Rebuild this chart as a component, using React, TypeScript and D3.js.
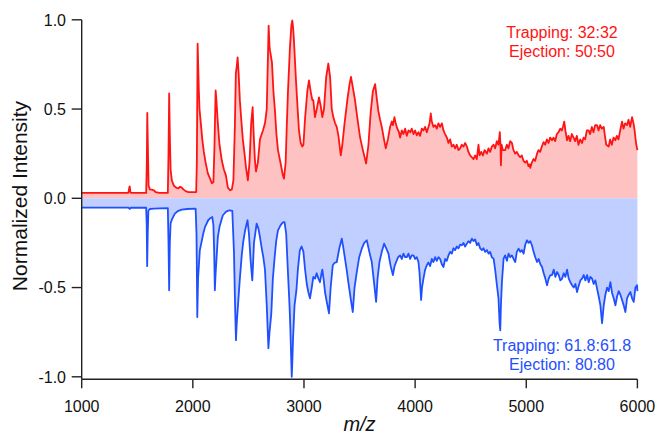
import React from "react";
import * as d3 from "d3";

// [m/z, normalized intensity]
const redSpectrum: [number, number][] = [
  [1000, 0.03], [1420, 0.03], [1428, 0.06], [1432, 0.067], [1438, 0.035], [1445, 0.03],
  [1580, 0.03], [1586, 0.2], [1590, 0.478], [1595, 0.3], [1602, 0.07], [1613, 0.05],
  [1630, 0.048], [1650, 0.045], [1665, 0.035], [1700, 0.03], [1775, 0.03], [1781, 0.25],
  [1787, 0.587], [1793, 0.35], [1800, 0.16], [1811, 0.1], [1830, 0.07], [1850, 0.06],
  [1870, 0.055], [1885, 0.065], [1900, 0.06], [1915, 0.05], [1935, 0.04], [1960, 0.035],
  [2030, 0.035], [2036, 0.2], [2043, 0.867], [2050, 0.7], [2054, 0.605], [2060, 0.5],
  [2072, 0.42], [2085, 0.33], [2099, 0.26], [2115, 0.2], [2135, 0.14], [2155, 0.11],
  [2171, 0.085], [2185, 0.09], [2195, 0.3], [2205, 0.605], [2212, 0.55], [2225, 0.42],
  [2240, 0.3], [2261, 0.21], [2280, 0.16], [2297, 0.13], [2315, 0.06], [2335, 0.045],
  [2351, 0.05], [2365, 0.1], [2378, 0.4], [2387, 0.7], [2395, 0.74], [2403, 0.79],
  [2412, 0.7], [2423, 0.55], [2437, 0.43], [2450, 0.33], [2465, 0.25], [2477, 0.18],
  [2495, 0.1], [2510, 0.2], [2525, 0.42], [2538, 0.51], [2548, 0.35], [2558, 0.22],
  [2568, 0.15], [2585, 0.2], [2604, 0.33], [2620, 0.36], [2631, 0.38], [2649, 0.42],
  [2665, 0.5], [2676, 0.8], [2682, 0.967], [2690, 0.85], [2694, 0.83], [2712, 0.76],
  [2725, 0.6], [2739, 0.49], [2752, 0.36], [2766, 0.27], [2793, 0.185], [2810, 0.13],
  [2820, 0.11], [2835, 0.2], [2845, 0.4], [2856, 0.6], [2874, 0.85], [2887, 0.97],
  [2895, 0.996], [2903, 0.95], [2910, 0.88], [2928, 0.66], [2945, 0.48], [2955, 0.38],
  [2970, 0.31], [2985, 0.29], [2995, 0.3], [3010, 0.45], [3030, 0.6], [3045, 0.66],
  [3060, 0.6], [3075, 0.55], [3084, 0.55], [3099, 0.455], [3115, 0.5], [3135, 0.565],
  [3150, 0.52], [3165, 0.455], [3180, 0.5], [3200, 0.68], [3219, 0.755], [3235, 0.68],
  [3250, 0.5], [3264, 0.455], [3280, 0.42], [3295, 0.4], [3310, 0.35], [3331, 0.24],
  [3345, 0.3], [3365, 0.42], [3390, 0.55], [3410, 0.64], [3423, 0.68], [3440, 0.62],
  [3459, 0.55], [3480, 0.45], [3505, 0.34], [3530, 0.27], [3559, 0.195], [3580, 0.3],
  [3600, 0.48], [3620, 0.6], [3640, 0.64], [3655, 0.56], [3669, 0.49], [3685, 0.44],
  [3700, 0.4], [3720, 0.33], [3736, 0.28], [3755, 0.33], [3775, 0.4], [3790, 0.43],
  [3800, 0.41], [3814, 0.455], [3825, 0.42], [3840, 0.39], [3855, 0.37], [3865, 0.34],
  [3880, 0.38], [3895, 0.36], [3910, 0.39], [3925, 0.35], [3940, 0.38], [3955, 0.37],
  [3970, 0.39], [3985, 0.36], [4000, 0.38], [4015, 0.353], [4030, 0.37], [4045, 0.35],
  [4060, 0.39], [4075, 0.38], [4090, 0.4], [4105, 0.37], [4120, 0.4], [4130, 0.42],
  [4141, 0.475], [4150, 0.43], [4165, 0.4], [4180, 0.41], [4195, 0.39], [4210, 0.42],
  [4225, 0.4], [4241, 0.42], [4255, 0.38], [4270, 0.36], [4286, 0.34], [4300, 0.31],
  [4315, 0.33], [4330, 0.29], [4345, 0.3], [4360, 0.28], [4375, 0.3], [4390, 0.27],
  [4405, 0.28], [4420, 0.3], [4435, 0.29], [4450, 0.31], [4466, 0.29], [4480, 0.26],
  [4495, 0.24], [4510, 0.23], [4525, 0.22], [4540, 0.24], [4555, 0.22], [4570, 0.3],
  [4580, 0.24], [4595, 0.26], [4610, 0.24], [4625, 0.27], [4646, 0.25], [4660, 0.28],
  [4675, 0.26], [4690, 0.29], [4706, 0.3], [4720, 0.28], [4735, 0.32], [4750, 0.3],
  [4762, 0.37], [4768, 0.3], [4772, 0.185], [4778, 0.3], [4790, 0.27], [4811, 0.27],
  [4825, 0.3], [4840, 0.28], [4855, 0.32], [4871, 0.31], [4885, 0.27], [4900, 0.25],
  [4915, 0.26], [4931, 0.24], [4945, 0.23], [4960, 0.24], [4975, 0.21], [4991, 0.2],
  [5005, 0.21], [5020, 0.18], [5030, 0.19], [5036, 0.17], [5050, 0.2], [5065, 0.22],
  [5080, 0.21], [5097, 0.25], [5110, 0.27], [5125, 0.26], [5140, 0.29], [5156, 0.315],
  [5170, 0.3], [5185, 0.33], [5200, 0.31], [5215, 0.34], [5232, 0.325], [5245, 0.34],
  [5260, 0.32], [5275, 0.36], [5290, 0.37], [5306, 0.39], [5320, 0.38], [5330, 0.4],
  [5342, 0.43], [5352, 0.38], [5367, 0.325], [5380, 0.35], [5395, 0.32], [5410, 0.36],
  [5426, 0.34], [5440, 0.32], [5455, 0.35], [5470, 0.3], [5485, 0.33], [5502, 0.31],
  [5515, 0.34], [5530, 0.33], [5545, 0.38], [5561, 0.38], [5575, 0.36], [5590, 0.4],
  [5605, 0.37], [5620, 0.41], [5637, 0.41], [5650, 0.38], [5665, 0.41], [5680, 0.39],
  [5697, 0.4], [5710, 0.34], [5720, 0.3], [5742, 0.29], [5755, 0.33], [5770, 0.3],
  [5785, 0.34], [5802, 0.325], [5815, 0.35], [5830, 0.33], [5845, 0.38], [5862, 0.43],
  [5875, 0.39], [5890, 0.42], [5907, 0.41], [5920, 0.44], [5935, 0.4], [5952, 0.455],
  [5965, 0.42], [5975, 0.38], [5982, 0.34], [5990, 0.3], [6000, 0.27],
];

const blueSpectrum: [number, number][] = [
  [1000, -0.052], [1420, -0.052], [1432, -0.06], [1440, -0.053], [1580, -0.053],
  [1585, -0.15], [1589, -0.38], [1594, -0.2], [1600, -0.07], [1613, -0.06], [1650, -0.058],
  [1700, -0.056], [1775, -0.055], [1781, -0.25], [1787, -0.515], [1793, -0.25], [1800, -0.14],
  [1811, -0.12], [1838, -0.086], [1870, -0.07], [1900, -0.063], [1950, -0.06], [2025, -0.058],
  [2033, -0.2], [2040, -0.665], [2047, -0.45], [2063, -0.29], [2080, -0.24], [2093, -0.2],
  [2110, -0.16], [2138, -0.123], [2160, -0.11], [2175, -0.105], [2185, -0.15], [2192, -0.3],
  [2198, -0.515], [2205, -0.42], [2225, -0.217], [2240, -0.16], [2270, -0.095], [2300, -0.075],
  [2330, -0.067], [2355, -0.07], [2370, -0.3], [2380, -0.6], [2388, -0.795], [2395, -0.7],
  [2423, -0.45], [2440, -0.32], [2453, -0.245], [2470, -0.18], [2492, -0.123], [2505, -0.2],
  [2520, -0.35], [2535, -0.46], [2550, -0.25], [2574, -0.142], [2590, -0.17], [2604, -0.217],
  [2620, -0.28], [2634, -0.33], [2649, -0.4], [2665, -0.6], [2680, -0.84], [2690, -0.75],
  [2706, -0.645], [2720, -0.45], [2736, -0.33], [2750, -0.24], [2766, -0.18], [2790, -0.15],
  [2810, -0.135], [2825, -0.133], [2840, -0.2], [2856, -0.42], [2870, -0.6], [2878, -0.74],
  [2885, -0.9], [2890, -1.0], [2896, -0.9], [2902, -0.78], [2915, -0.6], [2932, -0.515],
  [2945, -0.4], [2963, -0.29], [2979, -0.27], [2995, -0.3], [3009, -0.394], [3025, -0.48],
  [3039, -0.525], [3054, -0.56], [3070, -0.5], [3084, -0.44], [3100, -0.45], [3114, -0.42],
  [3130, -0.45], [3144, -0.47], [3155, -0.43], [3165, -0.4], [3178, -0.46], [3189, -0.525],
  [3205, -0.58], [3225, -0.645], [3240, -0.5], [3259, -0.375], [3278, -0.36], [3295, -0.357],
  [3318, -0.28], [3340, -0.226], [3355, -0.28], [3369, -0.338], [3384, -0.4], [3399, -0.47],
  [3420, -0.56], [3439, -0.637], [3455, -0.5], [3475, -0.413], [3497, -0.33], [3520, -0.282],
  [3542, -0.25], [3565, -0.235], [3588, -0.3], [3610, -0.357], [3630, -0.47], [3649, -0.58],
  [3662, -0.45], [3679, -0.357], [3700, -0.3], [3721, -0.254], [3740, -0.28], [3760, -0.31],
  [3780, -0.38], [3800, -0.43], [3815, -0.38], [3829, -0.357], [3847, -0.33], [3865, -0.32],
  [3880, -0.34], [3895, -0.31], [3910, -0.33], [3925, -0.33], [3940, -0.31], [3955, -0.34],
  [3970, -0.32], [3985, -0.32], [4000, -0.34], [4015, -0.33], [4030, -0.357], [4040, -0.42],
  [4054, -0.57], [4062, -0.5], [4075, -0.45], [4090, -0.4], [4105, -0.375], [4120, -0.36],
  [4135, -0.38], [4150, -0.34], [4165, -0.357], [4180, -0.33], [4195, -0.35], [4210, -0.33],
  [4225, -0.34], [4240, -0.37], [4255, -0.385], [4270, -0.34], [4285, -0.35], [4300, -0.32],
  [4315, -0.3], [4330, -0.31], [4345, -0.28], [4360, -0.29], [4375, -0.27], [4390, -0.28],
  [4405, -0.26], [4421, -0.263], [4435, -0.25], [4450, -0.27], [4466, -0.254], [4480, -0.24],
  [4495, -0.25], [4511, -0.226], [4525, -0.24], [4540, -0.23], [4556, -0.263], [4570, -0.25],
  [4585, -0.28], [4601, -0.29], [4615, -0.28], [4630, -0.3], [4646, -0.29], [4661, -0.31],
  [4675, -0.3], [4690, -0.33], [4706, -0.338], [4720, -0.4], [4736, -0.487], [4750, -0.56],
  [4760, -0.7], [4766, -0.74], [4772, -0.6], [4781, -0.47], [4796, -0.338], [4810, -0.32],
  [4826, -0.35], [4841, -0.31], [4856, -0.33], [4871, -0.32], [4886, -0.34], [4901, -0.357],
  [4915, -0.3], [4931, -0.282], [4946, -0.3], [4961, -0.29], [4976, -0.31], [4991, -0.26],
  [5006, -0.235], [5021, -0.25], [5036, -0.24], [5051, -0.263], [5066, -0.3], [5081, -0.33],
  [5097, -0.357], [5112, -0.34], [5127, -0.37], [5142, -0.385], [5157, -0.42], [5172, -0.45],
  [5187, -0.487], [5202, -0.45], [5217, -0.43], [5232, -0.43], [5247, -0.4], [5262, -0.44],
  [5277, -0.413], [5292, -0.43], [5307, -0.46], [5322, -0.45], [5337, -0.42], [5352, -0.44],
  [5367, -0.4], [5382, -0.45], [5397, -0.47], [5412, -0.487], [5427, -0.5], [5442, -0.48],
  [5457, -0.525], [5472, -0.49], [5487, -0.46], [5502, -0.45], [5517, -0.43], [5532, -0.46],
  [5547, -0.43], [5562, -0.47], [5577, -0.44], [5592, -0.45], [5607, -0.48], [5622, -0.46],
  [5637, -0.506], [5652, -0.55], [5667, -0.6], [5682, -0.7], [5697, -0.6], [5712, -0.54],
  [5727, -0.5], [5742, -0.52], [5757, -0.47], [5772, -0.53], [5787, -0.56], [5802, -0.6],
  [5817, -0.55], [5832, -0.52], [5847, -0.54], [5862, -0.57], [5877, -0.6], [5892, -0.637],
  [5907, -0.56], [5922, -0.54], [5937, -0.525], [5952, -0.56], [5967, -0.58], [5982, -0.5],
  [5997, -0.487], [6000, -0.52],
];

const xTicks = [1000, 2000, 3000, 4000, 5000, 6000];
const yTicks = [1.0, 0.5, 0.0, -0.5, -1.0];
const redLabels = ["Trapping: 32:32", "Ejection: 50:50"];
const blueLabels = ["Trapping: 61.8:61.8", "Ejection: 80:80"];

const W = 656;
const H = 436;
const FONT = "'Liberation Sans', Arial, Helvetica, sans-serif";
const RED = "#ff1414";
const RED_FILL = "#ffc2c2";
const BLUE = "#1f50ff";
const BLUE_FILL = "#c0cfff";

export default function App() {
  const x = d3.scaleLinear().domain([1000, 6000]).range([81.7, 637.4]);
  const y = d3.scaleLinear().domain([-1, 1]).range([376.8, 19.8]);
  const axisY = 379.3;

  const area = d3
    .area<[number, number]>()
    .x((d) => x(d[0]))
    .y0(y(0))
    .y1((d) => y(d[1]));
  const line = d3
    .line<[number, number]>()
    .x((d) => x(d[0]))
    .y((d) => y(d[1]));

  const labelX = 562;

  return (
    <svg
      width={W}
      height={H}
      style={{ position: "absolute", left: 0, top: 0, background: "#fff" }}
      fontFamily={FONT}
    >
      <rect x={0} y={0} width={W} height={H} fill="#fff" />
      <path d={area(redSpectrum) || ""} fill={RED_FILL} />
      <path d={area(blueSpectrum) || ""} fill={BLUE_FILL} />
      <path d={line(redSpectrum) || ""} fill="none" stroke={RED} strokeWidth={1.8} strokeLinejoin="round" />
      <path d={line(blueSpectrum) || ""} fill="none" stroke={BLUE} strokeWidth={1.8} strokeLinejoin="round" />

      {/* y axis */}
      <line x1={x(1000)} x2={x(1000)} y1={y(1)} y2={axisY} stroke="#222" strokeWidth={1.4} />
      {yTicks.map((t) => (
        <g key={t}>
          <line x1={x(1000) - 10} x2={x(1000)} y1={y(t)} y2={y(t)} stroke="#222" strokeWidth={1.4} />
          <text x={66} y={y(t)} dy="0.36em" textAnchor="end" fontSize={16} fill="#111">
            {t.toFixed(1)}
          </text>
        </g>
      ))}
      {/* x axis */}
      <line x1={x(1000)} x2={x(6000)} y1={axisY} y2={axisY} stroke="#222" strokeWidth={1.4} />
      {xTicks.map((t) => (
        <g key={t}>
          <line x1={x(t)} x2={x(t)} y1={axisY} y2={axisY + 9} stroke="#222" strokeWidth={1.4} />
          <text x={x(t)} y={412} textAnchor="middle" fontSize={16} fill="#111">
            {t}
          </text>
        </g>
      ))}

      <text
        transform={`translate(27,196) rotate(-90)`}
        textAnchor="middle"
        fontSize={21}
        fill="#111"
      >
        Normalized Intensity
      </text>
      <text x={359.5} y={431} textAnchor="middle" fontSize={20} fontStyle="italic" fill="#111">
        m/z
      </text>

      {redLabels.map((s, i) => (
        <text key={s} x={labelX} y={38.3 + i * 19} textAnchor="middle" fontSize={16} fill={RED}>
          {s}
        </text>
      ))}
      {blueLabels.map((s, i) => (
        <text key={s} x={labelX} y={351 + i * 19} textAnchor="middle" fontSize={16} fill={BLUE}>
          {s}
        </text>
      ))}
    </svg>
  );
}
